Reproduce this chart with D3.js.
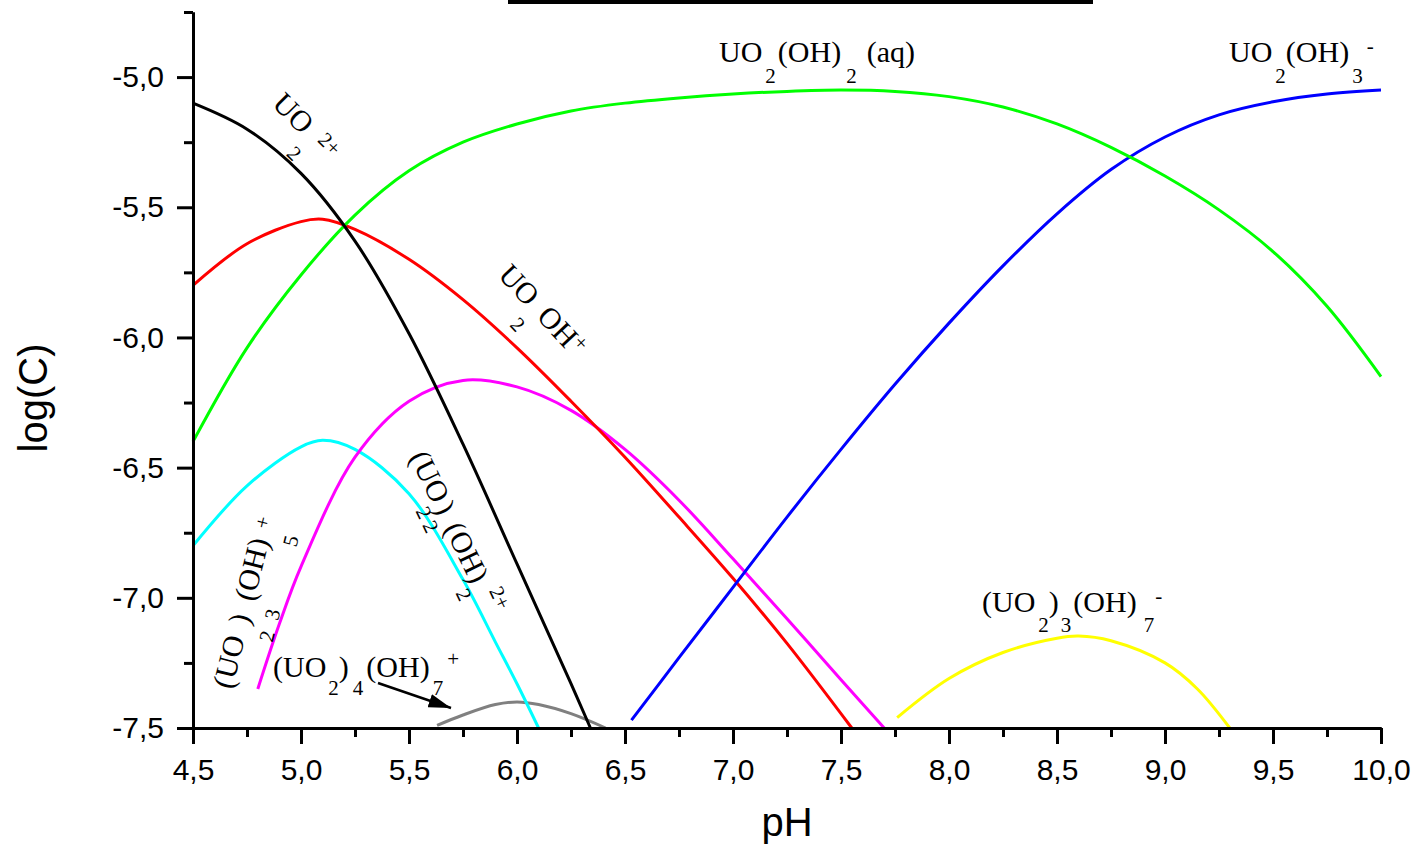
<!DOCTYPE html>
<html>
<head>
<meta charset="utf-8">
<script src="https://cdn.jsdelivr.net/npm/d3@7"></script>
<style>
  html, body { margin: 0; padding: 0; background: #fff; }
  svg { display: block; }
</style>
</head>
<body>
<svg id="chart" width="1418" height="846"></svg>
<script>
// speciation curves, each point is [pH, log C]
const uo2 = [[4.5, -5.10], [4.75, -5.20], [5.0, -5.37], [5.25, -5.63], [5.5, -5.985], [5.75, -6.41], [6.0, -6.87], [6.25, -7.33], [6.34, -7.5]]
const uo2oh = [[4.5, -5.80], [4.75, -5.64], [5.0, -5.555], [5.1, -5.546], [5.25, -5.585], [5.5, -5.70], [5.75, -5.855], [6.0, -6.04], [6.25, -6.245], [6.5, -6.46], [6.75, -6.69], [7.0, -6.925], [7.25, -7.175], [7.55, -7.5]]
const uo2oh2aq = [[4.5, -6.40], [4.75, -6.04], [5.0, -5.76], [5.25, -5.53], [5.5, -5.36], [5.75, -5.25], [6.0, -5.18], [6.25, -5.13], [6.5, -5.10], [6.75, -5.08], [7.0, -5.065], [7.25, -5.055], [7.5, -5.05], [7.75, -5.055], [8.0, -5.075], [8.25, -5.115], [8.5, -5.18], [8.75, -5.27], [9.0, -5.38], [9.25, -5.51], [9.5, -5.67], [9.75, -5.88], [10.0, -6.15]]
const uo2oh3 = [[6.53, -7.47], [6.75, -7.23], [7.0, -6.96], [7.25, -6.69], [7.5, -6.43], [7.75, -6.18], [8.0, -5.945], [8.25, -5.725], [8.5, -5.525], [8.75, -5.355], [9.0, -5.23], [9.25, -5.145], [9.5, -5.095], [9.75, -5.065], [10.0, -5.05]]
const u2oh2 = [[4.8, -7.35], [4.9, -7.10], [5.0, -6.88], [5.25, -6.46], [5.5, -6.245], [5.75, -6.165], [6.0, -6.19], [6.25, -6.28], [6.5, -6.43], [6.75, -6.625], [7.0, -6.85], [7.25, -7.08], [7.5, -7.315], [7.7, -7.5]]
const u3oh5 = [[4.5, -6.80], [4.75, -6.57], [5.0, -6.42], [5.1, -6.395], [5.25, -6.43], [5.5, -6.60], [5.75, -6.93], [5.9, -7.17], [6.0, -7.33], [6.1, -7.5]]
const u4oh7 = [[5.63, -7.49], [5.75, -7.45], [5.9, -7.41], [6.0, -7.40], [6.1, -7.41], [6.25, -7.445], [6.41, -7.5]]
const u3oh7 = [[7.76, -7.46], [8.0, -7.31], [8.25, -7.21], [8.5, -7.155], [8.6, -7.147], [8.75, -7.165], [9.0, -7.25], [9.15, -7.35], [9.3, -7.5]]

const xMajor = [4.5, 5.0, 5.5, 6.0, 6.5, 7.0, 7.5, 8.0, 8.5, 9.0, 9.5, 10.0]
const xMinor = [4.75, 5.25, 5.75, 6.25, 6.75, 7.25, 7.75, 8.25, 8.75, 9.25, 9.75]
const yMajor = [-7.5, -7.0, -6.5, -6.0, -5.5, -5.0]
const yMinor = [-7.25, -6.75, -6.25, -5.75, -5.25, -4.75]

const series = [
  { data: u4oh7, color: '#808080' },
  { data: u3oh7, color: '#ffff00' },
  { data: u3oh5, color: '#00ffff' },
  { data: u2oh2, color: '#ff00ff' },
  { data: uo2oh, color: '#ff0000' },
  { data: uo2oh3, color: '#0000ff' },
  { data: uo2oh2aq, color: '#00ff00' },
  { data: uo2, color: '#000000' },
]

// n = normal, b = subscript, p = superscript; third value is dx
const labels = [
  { x: 719, y: 62, rot: 0, sub: 21, sup: -9,
    parts: [['UO', 'n', 0], ['2', 'b', 3], ['(OH)', 'n', 2], ['2', 'b', 5], ['(aq)', 'n', 10]] },
  { x: 1229, y: 62, rot: 0, sub: 21, sup: -9,
    parts: [['UO', 'n', 0], ['2', 'b', 3], ['(OH)', 'n', 0], ['3', 'b', 3], ['-', 'p', 4]] },
  { x: 982, y: 612, rot: 0, sub: 20, sup: -9,
    parts: [['(UO', 'n', 0], ['2', 'b', 3], [')', 'n', 0], ['3', 'b', 2], ['(OH)', 'n', 2], ['7', 'b', 7], ['-', 'p', 1]] },
  { x: 273, y: 677, rot: 0, sub: 18, sup: -11,
    parts: [['(UO', 'n', 0], ['2', 'b', 2], [')', 'n', 0], ['4', 'b', 4], ['(OH)', 'n', 3], ['7', 'b', 3], ['+', 'p', 4]] },
  { x: 232, y: 690, rot: -76, sub: 28, sup: -4,
    parts: [['(UO', 'n', 0], ['2', 'b', 2], [')', 'n', 0], ['3', 'b', 2], ['(OH)', 'n', 2], ['5', 'b', 0], ['+', 'p', 0]] },
  { x: 409, y: 457, rot: 64, sub: 18, sup: -13,
    parts: [['(UO', 'n', 0], ['2', 'b', -2], [')', 'n', -5], ['2', 'b', 0], ['(OH)', 'n', 2], ['2', 'b', 0], ['2+', 'p', 2]] },
  { x: 271, y: 105, rot: 45, sub: 25, sup: -7,
    parts: [['UO', 'n', 0], ['2', 'b', 2], ['2+', 'p', 2]] },
  { x: 497, y: 276, rot: 47, sub: 25, sup: -9,
    parts: [['UO', 'n', 0], ['2', 'b', 1], ['OH', 'n', 2], ['+', 'p', 0]] },
]

const svg = d3.select('#chart')
const x = d3.scaleLinear([4.5, 10], [193, 1381])
const y = d3.scaleLinear([-7.5, -4.75], [728, 12])

const fmt = (v) => v.toFixed(1).replace('.', ',')
const sans = "'Liberation Sans', Arial, sans-serif"
const serif = "'Liberation Serif', 'Times New Roman', serif"

// cropped bar at the top of the source figure
svg.append('rect').attr('x', 508).attr('y', 0).attr('width', 585).attr('height', 4).attr('fill', '#000')

const line = d3.line()
  .x((d) => x(d[0]))
  .y((d) => y(d[1]))
  .curve(d3.curveCatmullRom.alpha(0.5))

svg.append('g')
  .selectAll('path')
  .data(series)
  .join('path')
  .attr('d', (d) => line(d.data))
  .attr('fill', 'none')
  .attr('stroke', (d) => d.color)
  .attr('stroke-width', 3)

function styleAxis(g) {
  g.selectAll('path, line').attr('stroke', '#000').attr('stroke-width', 3)
  g.selectAll('text').attr('fill', '#000').attr('font-size', 30).attr('font-family', sans)
}

svg.append('g')
  .attr('transform', `translate(0,${y(-7.5)})`)
  .call(d3.axisBottom(x).tickValues(xMinor).tickSize(9).tickSizeOuter(0).tickFormat(''))
  .call(styleAxis)
svg.append('g')
  .attr('transform', `translate(0,${y(-7.5)})`)
  .call(d3.axisBottom(x).tickValues(xMajor).tickSize(16).tickSizeOuter(0).tickPadding(15).tickFormat(fmt))
  .call(styleAxis)

svg.append('g')
  .attr('transform', `translate(${x(4.5)},0)`)
  .call(d3.axisLeft(y).tickValues(yMinor).tickSize(9).tickSizeOuter(0).tickFormat(''))
  .call(styleAxis)
svg.append('g')
  .attr('transform', `translate(${x(4.5)},0)`)
  .call(d3.axisLeft(y).tickValues(yMajor).tickSize(16).tickSizeOuter(0).tickPadding(13).tickFormat(fmt))
  .call(styleAxis)

svg.append('text')
  .attr('x', 787).attr('y', 836)
  .attr('text-anchor', 'middle')
  .attr('font-family', sans).attr('font-size', 40)
  .text('pH')

svg.append('text')
  .attr('transform', 'translate(47,398) rotate(-90)')
  .attr('text-anchor', 'middle')
  .attr('font-family', sans).attr('font-size', 40)
  .text('log(C)')

// species labels
const labelG = svg.append('g').attr('font-family', serif).attr('fill', '#000')
labels.forEach((lab) => {
  const t = labelG.append('text')
    .attr('transform', `translate(${lab.x},${lab.y}) rotate(${lab.rot})`)
  let shift = 0
  lab.parts.forEach(([txt, kind, dx]) => {
    const s = kind === 'b' ? lab.sub : kind === 'p' ? lab.sup : 0
    t.append('tspan')
      .attr('font-size', kind === 'n' ? 30 : 21)
      .attr('dx', dx)
      .attr('dy', s - shift)
      .text(txt)
    shift = s
  })
})

// arrow pointing at the (UO2)4(OH)7+ curve
const defs = svg.append('defs')
defs.append('marker')
  .attr('id', 'head')
  .attr('viewBox', '0 0 10 10')
  .attr('preserveAspectRatio', 'none')
  .attr('refX', 10).attr('refY', 5)
  .attr('markerWidth', 9).attr('markerHeight', 5.5)
  .attr('markerUnits', 'strokeWidth')
  .attr('orient', 'auto')
  .append('path')
  .attr('d', 'M0,0L10,5L0,10Z')
  .attr('fill', '#000')

svg.append('line')
  .attr('x1', 378).attr('y1', 683)
  .attr('x2', 451).attr('y2', 708)
  .attr('stroke', '#000').attr('stroke-width', 2.5)
  .attr('marker-end', 'url(#head)')
</script>
</body>
</html>
